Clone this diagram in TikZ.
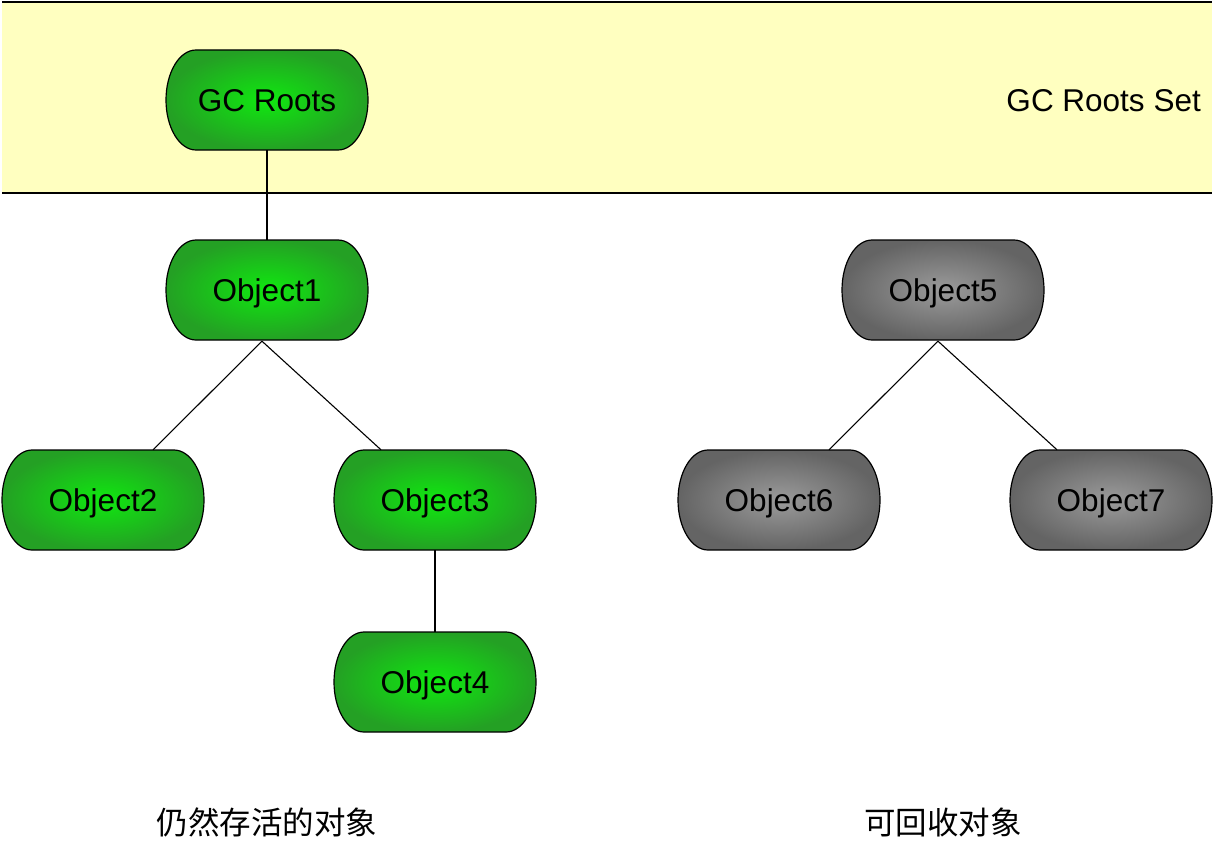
\documentclass[tikz,border=0pt]{standalone}
\usepackage{fontspec}
\setmainfont{Liberation Sans}
\newfontfamily\cjk{Noto Sans CJK SC}
\usetikzlibrary{calc}
\definecolor{band}{HTML}{FFFFC0}
\definecolor{gcenter}{RGB}{16,232,16}
\definecolor{gouter}{RGB}{36,160,36}
\definecolor{dcenter}{RGB}{155,155,155}
\definecolor{douter}{RGB}{100,100,100}
\newcommand\capsule[5]{%
  \path[#5] ({#2-71},{#3+50}) -- ({#2+71},{#3+50})
    arc[start angle=90,end angle=-90,x radius=30pt,y radius=50pt]
    -- ({#2-71},{#3-50})
    arc[start angle=270,end angle=90,x radius=30pt,y radius=50pt] -- cycle;
  \node[lbl] (#1) at (#2,#3) {#4};}
\begin{document}
\begin{tikzpicture}[x=1pt,y=1pt,line join=round,
  lbl/.style={minimum width=202pt,minimum height=100pt,inner sep=0pt,
    text height=22.6pt,text depth=0pt,font=\fontsize{31.5}{36}\selectfont},
  live/.style={draw=black,line width=1.2pt,inner color=gcenter,outer color=gouter},
  dead/.style={draw=black,line width=1.2pt,inner color=dcenter,outer color=douter},
  conn/.style={line width=1.1pt},
  cnlabel/.style={inner sep=0pt,text height=25pt,text depth=2pt,font=\cjk\fontsize{31.5}{36}\selectfont}]
\useasboundingbox (0,0) rectangle (1214,-856);
\fill[band] (2,-2) rectangle (1212,-193);
\draw[line width=1.5pt] (2,-2) -- (1212,-2);
\draw[line width=1.5pt] (2,-193) -- (1212,-193);
\node[anchor=east,inner sep=0pt,text height=22.6pt,text depth=0pt,
  font=\fontsize{31.5}{36}\selectfont] (setlbl) at (1201,-100) {GC Roots Set};
\capsule{gc}{267}{-100}{GC Roots}{live}
\capsule{o1}{267}{-290}{Object1}{live}
\capsule{o2}{103}{-500}{Object2}{live}
\capsule{o3}{435}{-500}{Object3}{live}
\capsule{o4}{435}{-682}{Object4}{live}
\capsule{o5}{943}{-290}{Object5}{dead}
\capsule{o6}{779}{-500}{Object6}{dead}
\capsule{o7}{1111}{-500}{Object7}{dead}
\draw[conn] (gc.south) -- (o1.north);
\draw[conn] ($(o1.south)+(-5,-1)$) -- ($(o2.north)+(50,0)$);
\draw[conn] ($(o1.south)+(-5,-1)$) -- ($(o3.north)+(-54,0)$);
\draw[conn] (o3.south) -- (o4.north);
\draw[conn] ($(o5.south)+(-5,-1)$) -- ($(o6.north)+(50,0)$);
\draw[conn] ($(o5.south)+(-5,-1)$) -- ($(o7.north)+(-54,0)$);
\node[cnlabel] (alive) at (267,-823) {仍然存活的对象};
\node[cnlabel] (dead) at (943,-823) {可回收对象};
\end{tikzpicture}
\end{document}
